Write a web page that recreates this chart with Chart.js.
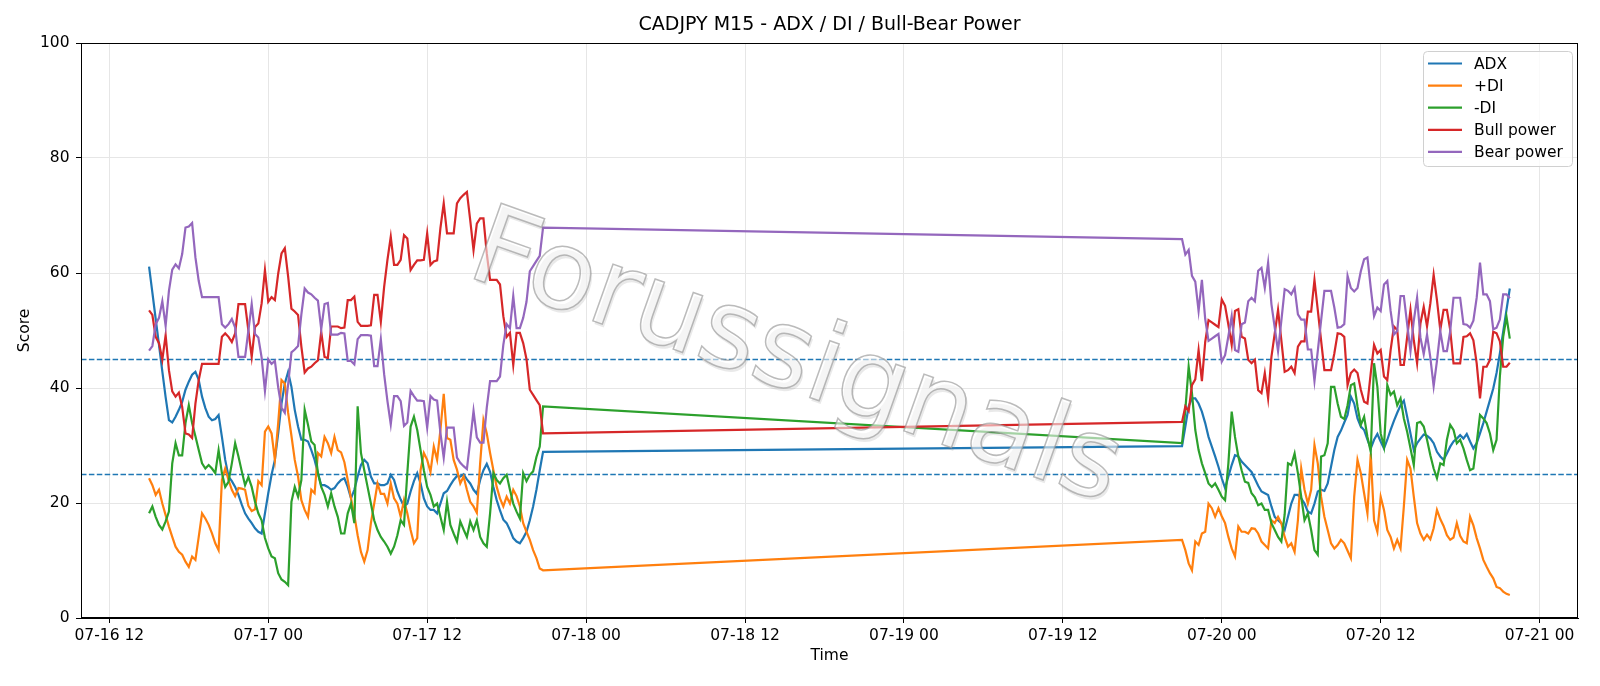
<!DOCTYPE html>
<html>
<head>
<meta charset="utf-8">
<script src="https://cdn.jsdelivr.net/npm/chart.js@4.4.1/dist/chart.umd.min.js"></script>
<style>
  html, body { margin: 0; padding: 0; background: #fff; }
</style>
</head>
<body>
<canvas id="adxChart" width="1600" height="686"></canvas>
<script>
// M15 bars, two trading sessions with a gap between them
const sessions = [
  { start: '07-16 15:00', bars: 120 },
  { start: '07-19 21:00', bars: 100 },
];

const adx = [
  61.1, 56.6, 52, 47.5, 42.9, 38.4, 34.4, 34, 35, 36.2, 37.6, 39.7, 41.1, 42.3, 42.8, 41.4, 38.5, 36.5, 35, 34.4,
  34.6, 35.3, 31.5, 27.5, 24.6, 23.8, 22.8, 21.4, 19.7, 18.2, 17.3, 16.5, 15.6, 15, 14.7, 18.2, 21.7, 24.9, 27.5, 32.1,
  37.3, 40.8, 42.8, 40.2, 36.2, 33.3, 31, 31, 30.7, 29.2, 27.5, 25.2, 23.1, 23.1, 22.8, 22.3, 22.6, 23.4, 24, 24.3,
  22.8, 20.8, 22.3, 24.6, 26.6, 27.5, 26.9, 24.6, 23.4, 23.4, 23.1, 23.1, 23.4, 24.9, 24, 22, 20.6, 19.4, 19.9, 22,
  23.8, 25.2, 23.4, 20.8, 19.4, 18.8, 18.8, 18.2, 19.9, 21.7, 22.1, 23.1, 24, 24.7, 24.6, 25, 24.1, 23.4, 22.3, 21.6,
  24, 25.7, 26.8, 25.4, 22.8, 20.5, 18.7, 17.1, 16.5, 15.3, 13.9, 13.3, 13, 13.9, 15, 17, 19.4, 22.3, 25.7, 28.9,
  // session 2
  29.9, 33.3, 36.8, 38.2, 38.2, 37.3, 35.9, 33.9, 31.5, 29.8, 28.1, 26.3, 24.3, 22.6, 24.6, 26.6, 28.3, 28.1, 27.2, 26.6,
  26, 25.4, 24.2, 23, 22, 21.7, 21.4, 19.4, 17.6, 17, 16.5, 15.3, 17.6, 19.9, 21.4, 21.4, 20.8, 19.9, 18.5, 18.2,
  19.9, 22, 22.3, 22.1, 23.4, 26.3, 29.2, 31.5, 32.6, 34, 35.3, 38.5, 37.3, 34.7, 33.3, 32.7, 31, 29.5, 31, 32,
  30.7, 29.5, 31, 32.7, 34.3, 35.7, 37, 37.8, 35, 32.1, 29.2, 30.4, 31.2, 31.9, 31.7, 31.2, 30.4, 28.9, 28.1, 27.5,
  28.6, 29.8, 30.7, 31.2, 31.8, 31.2, 32, 30.7, 29.5, 30.4, 32.1, 33.9, 35.9, 37.9, 39.9, 42.6, 46, 49.8, 53.6, 57.3,
];

const plusDI = [
  24.3, 23.1, 21.4, 22.3, 19.9, 17.9, 15.9, 14.1, 12.4, 11.5, 11, 9.8, 8.9, 10.7, 10.1, 14.1, 18.2, 17.3, 16.2, 14.7,
  13, 11.8, 24, 26, 24, 22.3, 21.2, 22.6, 22.5, 22.3, 19.5, 18.6, 18.9, 23.8, 23.1, 32.4, 33.3, 32.1, 27.5, 33.9,
  41.4, 40.8, 35.7, 31.7, 27.5, 24.6, 20.5, 18.8, 17.6, 22.3, 21.7, 28.7, 28.1, 31.5, 30.4, 28.7, 31.5, 29.2, 28.8, 27.1,
  24, 20.8, 17.9, 14.4, 11.5, 9.8, 11.8, 16.5, 19.9, 23.4, 21.6, 21.6, 19.9, 23.4, 20.8, 19.9, 17.6, 20.5, 18.2, 15.3,
  13, 13.9, 25.7, 28.7, 27.5, 25.4, 29.8, 27.5, 32.7, 39, 31.3, 31, 27.5, 25.8, 23.4, 24.6, 22.3, 20.2, 19.4, 18.3,
  26.9, 34.4, 32.1, 28.7, 25.7, 22.8, 20.8, 19.4, 21.1, 19.9, 22.3, 21.2, 19.4, 16.5, 15, 13.6, 11.8, 10.4, 8.6, 8.3,
  // session 2
  13.6, 11.8, 9.5, 8.3, 13.3, 12.7, 14.7, 15, 19.9, 19.1, 17.6, 19.1, 17.7, 16.5, 14.1, 12.1, 10.7, 15.9, 15, 15,
  14.7, 15.6, 15.5, 14.7, 13.3, 12.7, 12.1, 17, 16.5, 17.6, 16.5, 14.1, 12.4, 13, 11.5, 17, 26, 22.3, 19.9, 22.3,
  30.1, 26.9, 21.1, 17.6, 15.3, 13, 12.1, 12.7, 13.6, 13, 11.7, 10.4, 21.1, 27.5, 25.2, 21.7, 18.2, 28.6, 17, 15,
  21.1, 18.8, 15.3, 14.1, 12.1, 13.6, 12.1, 19.4, 27.5, 26, 21.1, 16.5, 14.7, 13.6, 14.5, 13.7, 15.6, 18.8, 17.2, 16,
  14.4, 13.6, 14, 16.5, 14.3, 13.3, 13, 17.6, 16.1, 13.9, 12.1, 10.1, 8.9, 7.8, 6.9, 5.4, 5.2, 4.6, 4.2, 4,
];

const minusDI = [
  18.2, 19.4, 17.6, 16.2, 15.4, 16.8, 18.5, 26.9, 30.4, 28.3, 28.3, 33.9, 37, 33.9, 31.6, 29.2, 26.9, 26, 26.6, 26,
  25.2, 29.2, 25.2, 22.8, 23.7, 26.9, 30.4, 28.1, 25.5, 23.1, 24.5, 22.8, 20.2, 18.2, 17, 13.9, 12.1, 10.7, 10.4, 7.8,
  6.7, 6.3, 5.7, 20.2, 22.8, 21.1, 24, 36.2, 33.6, 30.7, 30.1, 25.2, 22.8, 21.4, 19.4, 21.7, 19.4, 17.6, 14.7, 14.7,
  18.2, 19.9, 16.5, 36.8, 28.7, 25.7, 22.8, 19.9, 17, 15.3, 14.1, 13.3, 12.4, 11.2, 12.4, 14.4, 17, 16.2, 25.2, 33.3,
  35, 32.7, 29.2, 25.7, 22.8, 21.4, 19.4, 19.9, 17.6, 15.3, 20.2, 16.2, 14.7, 13.3, 16.8, 15.4, 14.1, 16.8, 15.3, 17,
  14.1, 13, 12.4, 18.2, 25.2, 24, 23.4, 24.3, 24.9, 22.3, 19.9, 18.5, 17.3, 25.2, 23.8, 24.9, 25.5, 28, 29.8, 36.8,
  // session 2
  30.4, 36.2, 43.7, 39.1, 32.7, 29.2, 26.9, 25.2, 23.4, 22.8, 23.4, 22.3, 21.1, 20.5, 26.9, 35.9, 31.5, 28.1, 25.7, 23.7,
  23.5, 21.7, 21, 19.6, 19.9, 18.8, 18.8, 16.5, 15.3, 14.1, 13.3, 18, 26.9, 26.6, 28.6, 25.2, 21.1, 17, 18.2, 15.3,
  11.8, 11, 28.1, 28.3, 30.4, 40.2, 40.2, 37.3, 35, 34.6, 37, 40.5, 40.8, 36.8, 33.6, 35, 31.5, 28.9, 44.3, 40.2,
  32.1, 29.8, 40.5, 38.8, 39.4, 37, 38.2, 34.7, 32.4, 29.5, 26.6, 33.9, 34.1, 33.3, 31, 28.3, 26, 24.3, 26.9, 26.6,
  31, 33.6, 32.7, 30.4, 31, 29.5, 27.5, 25.7, 26, 30.4, 35.3, 34.7, 33.9, 32.1, 29.2, 31, 42, 48.9, 52.4, 48.6,
];

const bullPower = [
  53.5, 52.7, 48.9, 47.8, 44.9, 49.2, 43.1, 39.4, 38.5, 39.2, 36.7, 32.1, 31.9, 31.3, 37.3, 41.4, 44.2, 44.2, 44.2, 44.2,
  44.2, 44.2, 48.9, 49.5, 48.9, 48, 49.5, 54.6, 54.6, 54.6, 50, 45.4, 50.6, 51.2, 54.7, 60.5, 55, 55.8, 55.3, 59.9,
  63.4, 64.3, 59.4, 53.8, 53.3, 52.7, 47.2, 42.7, 43.4, 43.7, 44.3, 44.8, 49.8, 45.4, 45.2, 50.7, 50.7, 50.7, 50.4, 50.5,
  55.3, 55.3, 55.9, 51.5, 50.8, 50.8, 50.8, 50.9, 56.2, 56.2, 51.5, 57.6, 62.3, 66.3, 61.4, 61.4, 62.3, 66.6, 66, 60.5,
  61.4, 62.2, 62.2, 62.3, 66.9, 61.4, 62, 62.2, 67.8, 72.1, 66.9, 66.9, 66.9, 72.1, 73, 73.6, 74.1, 69.2, 64, 68.6,
  69.5, 69.5, 63.4, 58.8, 58.8, 58.8, 58, 52.5, 48.9, 49.6, 44, 49.6, 49.6, 47.8, 45, 39.7, 38.8, 37.9, 37, 32.1,
  // session 2
  34.1, 36.8, 36, 40.5, 41.5, 46.6, 41.2, 48, 51.8, 51.4, 51, 50.6, 55.4, 54.3, 51, 47.5, 53.4, 53.7, 48.9, 48.6,
  44.9, 44.3, 44.9, 39.6, 39.1, 42.6, 38.2, 45.4, 49.5, 53.6, 48.3, 42.8, 43.1, 43.7, 42.6, 47.2, 48.1, 48.1, 53.3, 53.3,
  58.8, 53.6, 48.3, 43.1, 43.1, 43.1, 46, 49.5, 49.4, 48.9, 40.5, 42.6, 43.2, 42.6, 39.7, 37.6, 37.3, 42.6, 47.5, 46,
  46.6, 42, 41.4, 46.6, 50.7, 50.1, 44, 44, 48.9, 53.6, 48.3, 44.3, 51.2, 54.1, 50.7, 54.7, 59.7, 55.3, 50.1, 53.6,
  53.6, 50.1, 44.3, 44.3, 44.3, 48.9, 49, 49.5, 48.3, 44.3, 38.2, 43.7, 43.7, 44.9, 49.8, 49.5, 48.1, 43.7, 43.7, 44.4,
];

const bearPower = [
  46.5, 47.3, 51.1, 52.2, 55.1, 50.8, 56.9, 60.6, 61.5, 60.8, 63.3, 67.9, 68.1, 68.7, 62.7, 58.6, 55.8, 55.8, 55.8, 55.8,
  55.8, 55.8, 51.1, 50.5, 51.1, 52, 50.5, 45.4, 45.4, 45.4, 50, 54.6, 49.4, 48.8, 45.3, 39.5, 45, 44.2, 44.7, 40.1,
  36.6, 35.7, 40.6, 46.2, 46.7, 47.3, 52.8, 57.3, 56.6, 56.3, 55.7, 55.2, 50.2, 54.6, 54.8, 49.3, 49.3, 49.3, 49.6, 49.5,
  44.7, 44.7, 44.1, 48.5, 49.2, 49.2, 49.2, 49.1, 43.8, 43.8, 48.5, 42.4, 37.7, 33.7, 38.6, 38.6, 37.7, 33.4, 34, 39.5,
  38.6, 37.8, 37.8, 37.7, 33.1, 38.6, 38, 37.8, 32.2, 27.9, 33.1, 33.1, 33.1, 27.9, 27, 26.4, 25.9, 30.8, 36, 31.4,
  30.5, 30.5, 36.6, 41.2, 41.2, 41.2, 42, 47.5, 51.1, 50.4, 56, 50.4, 50.4, 52.2, 55, 60.3, 61.2, 62.1, 63, 67.9,
  // session 2
  65.9, 63.2, 64, 59.5, 58.5, 53.4, 58.8, 52, 48.2, 48.6, 49, 49.4, 44.6, 45.7, 49, 52.5, 46.6, 46.3, 51.1, 51.4,
  55.1, 55.7, 55.1, 60.4, 60.9, 57.4, 61.8, 54.6, 50.5, 46.4, 51.7, 57.2, 56.9, 56.3, 57.4, 52.8, 51.9, 51.9, 46.7, 46.7,
  41.2, 46.4, 51.7, 56.9, 56.9, 56.9, 54, 50.5, 50.6, 51.1, 59.5, 57.4, 56.8, 57.4, 60.3, 62.4, 62.7, 57.4, 52.5, 54,
  53.4, 58, 58.6, 53.4, 49.3, 49.9, 56, 56, 51.1, 46.4, 51.7, 55.7, 48.8, 45.9, 49.3, 45.3, 40.3, 44.7, 49.9, 46.4,
  46.4, 49.9, 55.7, 55.7, 55.7, 51.1, 51, 50.5, 51.7, 55.7, 61.8, 56.3, 56.3, 55.1, 50.2, 50.5, 51.9, 56.3, 56.3, 55.6,
];

const thresholds = [45, 25];
const yTicks = [0, 20, 40, 60, 80, 100];
const xTickHours = [12, 24, 36, 48, 60, 72, 84, 96, 108, 120]; // hours after 07-16 00:00

// 'MM-DD HH:MM' -> hours after 07-16 00:00
function toHours(stamp) {
  const day = parseInt(stamp.slice(3, 5), 10);
  const hh = parseInt(stamp.slice(6, 8), 10);
  const mm = parseInt(stamp.slice(9, 11), 10);
  return (day - 16) * 24 + hh + mm / 60;
}
function hourLabel(h) {
  const day = 16 + Math.floor(h / 24);
  const hh = h % 24;
  return '07-' + day + ' ' + String(hh).padStart(2, '0');
}

const barHours = [];
sessions.forEach(s => {
  const t0 = toHours(s.start);
  for (let k = 0; k < s.bars; k++) barHours.push(t0 + k * 0.25);
});

function points(values) {
  return values.map((v, k) => ({ x: barHours[k], y: v }));
}

const font = { family: 'DejaVu Sans', size: 15.5 };

const thresholdLines = {
  id: 'thresholdLines',
  beforeDatasetsDraw(chart) {
    const { ctx, chartArea } = chart;
    const y = chart.scales.y;
    ctx.save();
    ctx.strokeStyle = '#1f77b4';
    ctx.lineWidth = 1.4;
    ctx.setLineDash([5.5, 2.4]);
    thresholds.forEach(v => {
      const py = Math.round(y.getPixelForValue(v)) + 0.5;
      ctx.beginPath();
      ctx.moveTo(chartArea.left, py);
      ctx.lineTo(chartArea.right, py);
      ctx.stroke();
    });
    ctx.restore();
  }
};

const watermark = {
  id: 'watermark',
  afterDatasetsDraw(chart) {
    const ctx = chart.ctx;
    const text = 'Forussignals';
    ctx.save();
    ctx.translate(795, 362);
    ctx.rotate(19.5 * Math.PI / 180);
    ctx.font = '110px "DejaVu Sans"';
    ctx.textAlign = 'center';
    ctx.textBaseline = 'middle';
    ctx.fillStyle = 'rgba(120,120,120,0.16)';
    ctx.fillText(text, 2.5, 2.5);
    ctx.fillStyle = 'rgba(255,255,255,0.55)';
    ctx.fillText(text, 0, 0);
    ctx.lineWidth = 1.5;
    ctx.strokeStyle = 'rgba(150,150,150,0.65)';
    ctx.strokeText(text, 0, 0);
    ctx.restore();
  }
};

const frameAndLegend = {
  id: 'frameAndLegend',
  afterDraw(chart) {
    const { ctx, chartArea } = chart;
    ctx.save();
    ctx.strokeStyle = '#000';
    ctx.lineWidth = 1;
    ctx.strokeRect(chartArea.left + 0.5, chartArea.top + 0.5,
      chartArea.right - chartArea.left - 1, chartArea.bottom - chartArea.top - 1);

    // title centred over the plot area
    ctx.fillStyle = '#000';
    ctx.font = '19px "DejaVu Sans"';
    ctx.textAlign = 'center';
    ctx.textBaseline = 'middle';
    ctx.fillText('CADJPY M15 - ADX / DI / Bull-Bear Power', (chartArea.left + chartArea.right) / 2, 25.5);

    // legend box, upper right
    const x0 = 1423, y0 = 51, w = 149, h = 115;
    ctx.beginPath();
    ctx.roundRect(x0 + 0.5, y0 + 0.5, w, h, 4);
    ctx.fillStyle = 'rgba(255,255,255,0.8)';
    ctx.fill();
    ctx.strokeStyle = '#d0d0d0';
    ctx.lineWidth = 1;
    ctx.stroke();
    ctx.font = '15.5px "DejaVu Sans"';
    ctx.textBaseline = 'middle';
    ctx.textAlign = 'left';
    chart.data.datasets.forEach((ds, k) => {
      const y = 63.5 + k * 22.1;
      ctx.beginPath();
      ctx.strokeStyle = ds.borderColor;
      ctx.lineWidth = 2.2;
      ctx.moveTo(1428, y);
      ctx.lineTo(1462, y);
      ctx.stroke();
      ctx.fillStyle = '#000';
      ctx.fillText(ds.label, 1474, y + 1);
    });
    ctx.restore();
  }
};

function series(label, values, color, order) {
  return {
    label: label,
    data: points(values),
    borderColor: color,
    backgroundColor: color,
    borderWidth: 2.2,
    pointRadius: 0,
    tension: 0,
    order: order,
  };
}

new Chart(document.getElementById('adxChart'), {
  type: 'line',
  data: {
    datasets: [
      series('ADX', adx, '#1f77b4', 5),
      series('+DI', plusDI, '#ff7f0e', 4),
      series('-DI', minusDI, '#2ca02c', 3),
      series('Bull power', bullPower, '#d62728', 2),
      series('Bear power', bearPower, '#9467bd', 1),
    ]
  },
  options: {
    responsive: false,
    animation: false,
    devicePixelRatio: 1,
    layout: { padding: { left: 0, right: 22, top: 43, bottom: 0 } },
    plugins: {
      legend: { display: false },
      tooltip: { enabled: false },
      title: { display: false },
    },
    scales: {
      x: {
        type: 'linear',
        min: 9.86,
        max: 122.9,
        afterBuildTicks: scale => { scale.ticks = xTickHours.map(v => ({ value: v })); },
        afterFit: scale => { scale.height = 68; },
        ticks: {
          callback: v => hourLabel(v),
          color: '#000',
          font: font,
          padding: 4,
          maxRotation: 0,
          autoSkip: false,
        },
        grid: { color: '#e6e6e6', lineWidth: 1, tickColor: '#000', tickLength: 5 },
        border: { color: '#000', width: 1 },
        title: { display: true, text: 'Time', color: '#000', font: font, padding: { top: 0, bottom: 20.7 } },
      },
      y: {
        min: 0,
        max: 100,
        afterBuildTicks: scale => { scale.ticks = yTicks.map(v => ({ value: v })); },
        afterFit: scale => { scale.width = 81; },
        ticks: { color: '#000', font: font, padding: 6.5 },
        grid: { color: '#e6e6e6', lineWidth: 1, tickColor: '#000', tickLength: 5 },
        border: { color: '#000', width: 1 },
        title: { display: true, text: 'Score', color: '#000', font: font, padding: { top: 16, bottom: 0 } },
      },
    },
  },
  plugins: [thresholdLines, watermark, frameAndLegend],
});
</script>
</body>
</html>
